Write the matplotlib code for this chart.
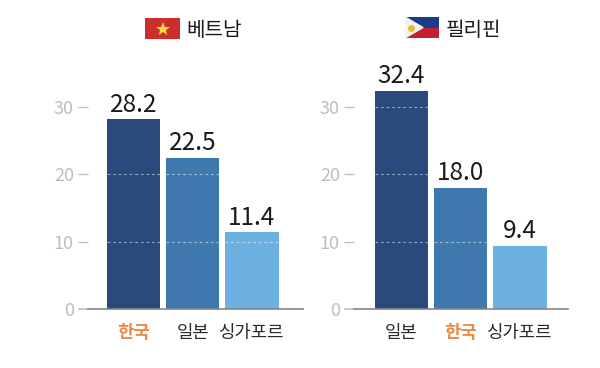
import matplotlib.pyplot as plt
from matplotlib.patches import Polygon, Rectangle

plt.rcParams["font.family"] = ["Noto Sans CJK KR", "DejaVu Sans"]

# values per panel
viet_title = "베트남"
viet_labels = ["한국", "일본", "싱가포르"]
viet_values = [28.2, 22.5, 11.4]
phil_title = "필리핀"
phil_labels = ["일본", "한국", "싱가포르"]
phil_values = [32.4, 18.0, 9.4]
y_ticks = [0, 10, 20, 30]

W, H = 600, 368
BAR_COLORS = ["#2A4A7E", "#3F78AE", "#6BB0E0"]
ORANGE = "#E88B48"
GRAY = "#BDBDBD"
BASE = "#858585"
BAR_WIDTH = 0.9


def px_axes(fig, x0, y0, x1, y1):
    # pixel box with y measured from the top of the picture
    return fig.add_axes([x0 / W, 1 - y1 / H, (x1 - x0) / W, (y1 - y0) / H])


def draw_panel(fig, x0, x1, first_center, labels, values):
    ax = px_axes(fig, x0, 50, x1, 309)
    ax.set_ylim(0, 259 / 6.73)
    ax.set_xlim((x0 - first_center) / 59.2, (x1 - first_center) / 59.2)
    xs = range(len(values))
    ax.bar(xs, values, width=BAR_WIDTH, color=BAR_COLORS, zorder=2)

    # dashed gridlines only show on top of the bars
    for x, v in zip(xs, values):
        for t in y_ticks[1:]:
            if t < v:
                ax.hlines(t, x - BAR_WIDTH / 2, x + BAR_WIDTH / 2, color="white",
                          alpha=0.5, lw=0.8, ls=(0, (2.5, 2.5)), zorder=3)
        ax.text(x, v + 0.25, f"{v:.1f}", ha="center", va="bottom", fontsize=17.5,
                color="#1A1A1A", zorder=4)

    for s in ["top", "right", "left"]:
        ax.spines[s].set_visible(False)
    ax.spines["bottom"].set_color(BASE)
    ax.spines["bottom"].set_linewidth(1.2)

    ax.set_yticks(y_ticks)
    ax.tick_params(axis="y", length=7.2, width=0.9, color=GRAY, labelcolor=GRAY,
                   labelsize=13, pad=3)
    ax.yaxis.get_major_ticks()[0].tick1line.set_color(BASE)
    ax.yaxis.get_major_ticks()[0].tick1line.set_markeredgewidth(1.2)
    ax.set_xticks(list(xs))
    ax.set_xticklabels(labels, fontsize=12.8, color="#2A2A2A")
    ax.tick_params(axis="x", length=0, pad=10.5)
    for tl, name in zip(ax.get_xticklabels(), labels):
        if name == "한국":
            tl.set_color(ORANGE)
            tl.set_fontweight("bold")
    return ax


def draw_vietnam_flag(fig):
    ax = px_axes(fig, 145, 18, 180, 39)
    ax.set_xlim(0, 35)
    ax.set_ylim(0, 21)
    ax.axis("off")
    ax.add_patch(Rectangle((0, 0), 35, 21, color="#CC2E2B"))
    ax.plot([17.5], [10.5], marker="*", ms=10, color="#F7D64A", mew=0)


def draw_phil_flag(fig):
    ax = px_axes(fig, 405, 17, 439, 38)
    ax.set_xlim(0, 34)
    ax.set_ylim(0, 21)
    ax.axis("off")
    ax.add_patch(Rectangle((0, 10.5), 34, 10.5, color="#1A3C8F"))
    ax.add_patch(Rectangle((0, 0), 34, 10.5, color="#C42032"))
    ax.add_patch(Polygon([(0, 0), (0, 21), (18, 10.5)], color="#F6F3E8"))
    ax.plot([6], [10.5], marker="o", ms=5, color="#E8B93A", mew=0)


fig = plt.figure(figsize=(W / 100, H / 100), dpi=100, facecolor="white")
draw_panel(fig, 88, 303, 133.5, viet_labels, viet_values)
draw_panel(fig, 354, 568, 401.5, phil_labels, phil_values)
draw_vietnam_flag(fig)
draw_phil_flag(fig)
fig.text(186 / W, 1 - 31 / H, viet_title, fontsize=14.5, color="#1A1A1A", va="center")
fig.text(446 / W, 1 - 31 / H, phil_title, fontsize=14.5, color="#1A1A1A", va="center")

fig.savefig("out.png", dpi=100)
